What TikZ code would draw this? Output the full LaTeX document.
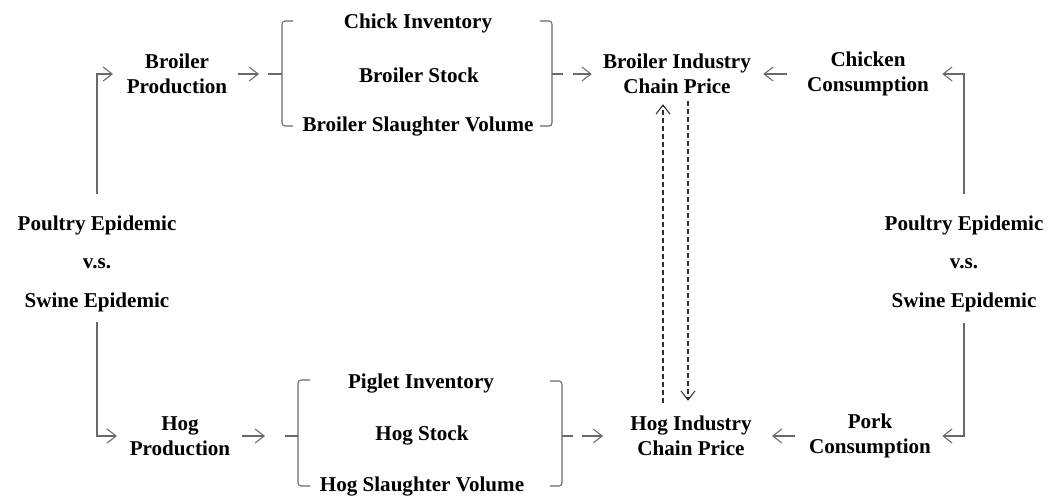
\documentclass[tikz,border=0pt]{standalone}
\usepackage{fontspec}
\setmainfont{Liberation Serif}
\usetikzlibrary{arrows.meta,positioning,calc}
\definecolor{linegray}{RGB}{105,105,105}
\definecolor{dashgray}{RGB}{45,45,45}

\begin{document}
\begin{tikzpicture}[
  x=1cm,y=1cm,font=\bfseries\fontsize{12}{14.2}\selectfont,
  lbl/.style={align=center,inner sep=1mm},
  flow/.style={-{Straight Barb[length=1.8mm,width=2.8mm]},draw=linegray,line width=0.6pt},
  link/.style={flow,draw=dashgray,dash pattern=on 1mm off 0.6mm},
  brk/.style={draw=linegray,line width=0.6pt,rounded corners=0.6mm}
]
\useasboundingbox (0,0) rectangle (21.24,-9.98);
% ---------- epidemic shocks (left and right)
\node[lbl] (pe1) at (1.94,-4.50)  {Poultry Epidemic};
\node[lbl] (vs1) at (1.94,-5.28)  {v.s.};
\node[lbl] (se1) at (1.94,-6.04)  {Swine Epidemic};
\node[lbl] (pe2) at (19.28,-4.50) {Poultry Epidemic};
\node[lbl] (vs2) at (19.28,-5.28) {v.s.};
\node[lbl] (se2) at (19.28,-6.04) {Swine Epidemic};
% ---------- broiler chain (top row)
\node[lbl] (bp)  at (3.54,-1.48)  {Broiler\\Production};
\node[lbl] (ci)  at (8.36,-0.46)  {Chick Inventory};
\node[lbl] (bs)  at (8.38,-1.50)  {Broiler Stock};
\node[lbl] (bsv) at (8.36,-2.54)  {Broiler Slaughter Volume};
\node[lbl] (bip) at (13.54,-1.48) {Broiler Industry\\Chain Price};
\node[lbl] (cc)  at (17.36,-1.48) {Chicken\\Consumption};
% ---------- hog chain (bottom row)
\node[lbl] (hp)  at (3.60,-8.72)  {Hog\\Production};
\node[lbl] (pi)  at (8.42,-7.68)  {Piglet Inventory};
\node[lbl] (hs)  at (8.44,-8.72)  {Hog Stock};
\node[lbl] (hsv) at (8.44,-9.74)  {Hog Slaughter Volume};
\node[lbl] (hip) at (13.82,-8.72) {Hog Industry\\Chain Price};
\node[lbl] (pc)  at (17.40,-8.72) {Pork\\Consumption};
% ---------- brackets
\coordinate (lbm) at (5.36,-1.48);
\coordinate (rbm) at (11.26,-1.48);
\coordinate (lhm) at (5.70,-8.72);
\coordinate (rhm) at (11.46,-8.72);
\draw[brk] (5.86,-0.42) -- (5.64,-0.42) -- (5.64,-2.52) -- (5.86,-2.52);
\draw[brk] (lbm) -- (5.64,-1.48);
\draw[brk] (10.80,-0.42) -- (11.04,-0.42) -- (11.04,-2.52) -- (10.80,-2.52);
\draw[brk] (11.04,-1.48) -- (rbm);
\draw[brk] (6.20,-7.60) -- (5.96,-7.60) -- (5.96,-9.72) -- (6.20,-9.72);
\draw[brk] (lhm) -- (5.96,-8.72);
\draw[brk] (11.00,-7.62) -- (11.24,-7.62) -- (11.24,-9.72) -- (11.00,-9.72);
\draw[brk] (11.24,-8.72) -- (rhm);
% ---------- arrows
\draw[flow,shorten <=3.3mm,shorten >=1.7mm] (pe1.north) |- (bp.west);
\draw[flow,shorten <=1.1mm,shorten >=1.8mm] (bp.east) -- (lbm);
\draw[flow,shorten <=2mm,shorten >=1.2mm] (rbm) -- (bip.west);
\draw[flow,shorten <=3mm,shorten >=1.4mm] (cc.west) -- (bip.east);
\draw[flow,shorten <=3.3mm,shorten >=1.6mm] (pe2.north) |- (cc.east);
\draw[flow,shorten <=1.1mm,shorten >=1.5mm] (se1.south) |- (hp.west);
\draw[flow,shorten <=1.3mm,shorten >=4mm] (hp.east) -- (lhm);
\draw[flow,shorten <=1.8mm,shorten >=4.4mm] (rhm) -- (hip.west);
\draw[flow,shorten <=1.8mm,shorten >=3mm] (pc.west) -- (hip.east);
\draw[flow,shorten <=1.3mm,shorten >=1.2mm] (se2.south) |- (pc.east);
\draw[link,shorten <=1.6mm,shorten >=1mm] ([xshift=-2.8mm]bip.south |- hip.north) -- ([xshift=-2.8mm]bip.south);
\draw[link,shorten <=0.4mm,shorten >=2mm] ([xshift=2.2mm]bip.south) -- ([xshift=2.2mm]bip.south |- hip.north);
\end{tikzpicture}
\end{document}
